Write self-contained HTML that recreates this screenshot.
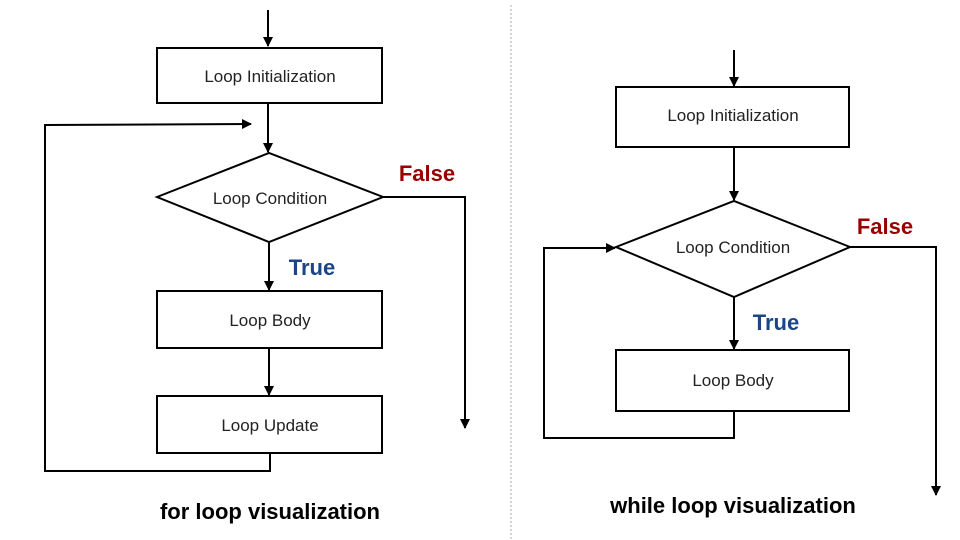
<!DOCTYPE html>
<html><head><meta charset="utf-8"><style>
html,body{margin:0;padding:0;background:#fff;}
svg{display:block;}
text{font-family:"Liberation Sans",sans-serif;}
</style></head><body>
<svg width="960" height="540" viewBox="0 0 960 540" xmlns="http://www.w3.org/2000/svg">
<defs>
<marker id="a" markerWidth="10" markerHeight="10" refX="9" refY="5" orient="auto" markerUnits="userSpaceOnUse">
<path d="M0,0 L10,5 L0,10 z" fill="#000"/></marker>
</defs>
<g stroke="#000" stroke-width="2" fill="none">
<!-- left -->
<line x1="268" y1="10" x2="268" y2="46" marker-end="url(#a)"/>
<rect x="157" y="48" width="225" height="55" fill="#fff"/>
<line x1="268" y1="103" x2="268" y2="152" marker-end="url(#a)"/>
<polyline points="270,453 270,471 45,471 45,125 251,124" marker-end="url(#a)"/>
<polygon points="157,197 269,153 383,197 269,242" fill="#fff"/>
<polyline points="383,197 465,197 465,428" marker-end="url(#a)"/>
<line x1="269" y1="242" x2="269" y2="290" marker-end="url(#a)"/>
<rect x="157" y="291" width="225" height="57" fill="#fff"/>
<line x1="269" y1="348" x2="269" y2="395" marker-end="url(#a)"/>
<rect x="157" y="396" width="225" height="57" fill="#fff"/>
<!-- right -->
<line x1="734" y1="50" x2="734" y2="86" marker-end="url(#a)"/>
<rect x="616" y="87" width="233" height="60" fill="#fff"/>
<line x1="734" y1="147" x2="734" y2="200" marker-end="url(#a)"/>
<polygon points="616,247 734,201 850,247 734,297" fill="#fff"/>
<polyline points="850,247 936,247 936,495" marker-end="url(#a)"/>
<line x1="734" y1="297" x2="734" y2="349" marker-end="url(#a)"/>
<rect x="616" y="350" width="233" height="61" fill="#fff"/>
<polyline points="734,411 734,438 544,438 544,248 615,248" marker-end="url(#a)"/>
</g>
<line x1="511" y1="5" x2="511" y2="540" stroke="#aaa" stroke-width="1" stroke-dasharray="2,2"/>
<g font-size="17" fill="#222" text-anchor="middle">
<text x="270" y="82">Loop Initialization</text>
<text x="270" y="204">Loop Condition</text>
<text x="270" y="326">Loop Body</text>
<text x="270" y="431">Loop Update</text>
<text x="733" y="121">Loop Initialization</text>
<text x="733" y="253">Loop Condition</text>
<text x="733" y="386">Loop Body</text>
</g>
<g font-size="22" font-weight="bold" text-anchor="middle">
<text x="427" y="181" fill="#990000">False</text>
<text x="312" y="275" fill="#1c4587">True</text>
<text x="885" y="234" fill="#990000">False</text>
<text x="776" y="330" fill="#1c4587">True</text>
<text x="270" y="519" fill="#000">for loop visualization</text>
<text x="733" y="513" fill="#000">while loop visualization</text>
</g>
</svg>
</body></html>
